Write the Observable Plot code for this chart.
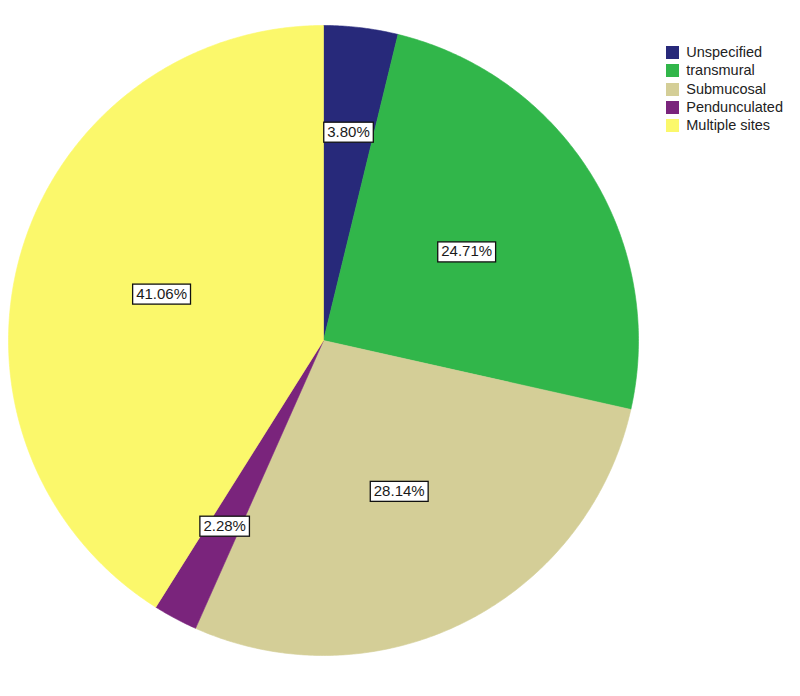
<!DOCTYPE html>
<html><head><meta charset="utf-8">
<script src="https://cdn.jsdelivr.net/npm/d3@7"></script>
<script src="https://cdn.jsdelivr.net/npm/@observablehq/plot@0.6"></script>
<style>
body{margin:0;background:#fff;font-family:"Liberation Sans",Arial,sans-serif;}
#wrap{position:relative;width:800px;height:696px;overflow:hidden;}
#legend{position:absolute;left:666px;top:44px;}
</style></head><body><div id="wrap"></div>
<script>
const categories = ["Unspecified", "transmural", "Submucosal", "Pendunculated", "Multiple sites"];
const percents = [3.80, 24.71, 28.14, 2.28, 41.06];
const colors = ["#27297a", "#31b64a", "#d4ce97", "#7a247c", "#fbf86b"];

const total = d3.sum(percents);
const slices = [];
let acc = 0;
categories.forEach((c, i) => {
  const a0 = acc / total * 2 * Math.PI;
  acc += percents[i];
  const a1 = acc / total * 2 * Math.PI;
  slices.push({cat: c, value: percents[i], a0, a1, mid: (a0 + a1) / 2});
});

// polygon outline for each slice (angles clockwise from 12 o'clock)
const pts = [];
for (const s of slices) {
  pts.push({cat: s.cat, x: 0, y: 0});
  const n = Math.max(2, Math.ceil((s.a1 - s.a0) / (Math.PI / 360)));
  for (let k = 0; k <= n; k++) {
    const a = s.a0 + (s.a1 - s.a0) * k / n;
    pts.push({cat: s.cat, x: Math.sin(a), y: Math.cos(a)});
  }
  pts.push({cat: s.cat, x: 0, y: 0});
}

const labels = slices.map(s => {
  const r = s.value < 5 ? 0.667 : 0.535;
  return {x: r * Math.sin(s.mid), y: r * Math.cos(s.mid), text: s.value.toFixed(2) + "%"};
});

const colorScale = {type: "ordinal", domain: categories, range: colors};

const plot = Plot.plot({
  width: 800, height: 696,
  marginLeft: 8, marginRight: 162, marginTop: 25, marginBottom: 41,
  x: {domain: [-1, 1], axis: null},
  y: {domain: [-1, 1], axis: null},
  color: colorScale,
  style: {background: "#fff", fontFamily: "Liberation Sans, Arial, sans-serif"},
  marks: [
    Plot.line(pts, {x: "x", y: "y", z: "cat", fill: "cat", stroke: "cat", strokeWidth: 0.6, curve: "linear"}),
    Plot.text(labels, {x: "x", y: "y", text: "text", fontSize: 15, fill: "#1a1a1a", className: "pielabel"})
  ]
});

const wrap = document.getElementById("wrap");
wrap.appendChild(plot);

// white boxed labels
plot.querySelectorAll(".pielabel text").forEach(t => {
  const b = t.getBBox();
  const r = document.createElementNS("http://www.w3.org/2000/svg", "rect");
  r.setAttribute("x", b.x - 3.5);
  r.setAttribute("y", b.y - 0.5);
  r.setAttribute("width", b.width + 7);
  r.setAttribute("height", b.height + 3);
  r.setAttribute("fill", "#fff");
  r.setAttribute("stroke", "#111");
  r.setAttribute("stroke-width", 1.3);
  const tr = t.getAttribute("transform");
  if (tr) r.setAttribute("transform", tr);
  t.parentNode.insertBefore(r, t);
});

const legend = Plot.legend({
  color: colorScale,
  legend: "swatches",
  columns: 1,
  swatchSize: 13,
  style: {fontSize: "14.5px", fontFamily: "Liberation Sans, Arial, sans-serif", lineHeight: "17.3px", color: "#222"}
});
legend.id = "legend";
wrap.appendChild(legend);
</script></body></html>
